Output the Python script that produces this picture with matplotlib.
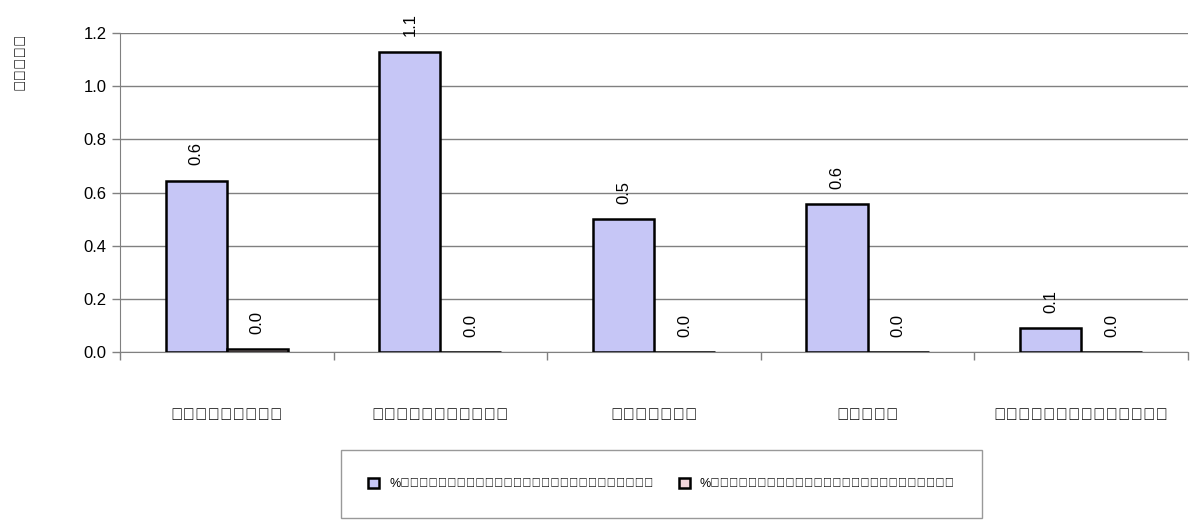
import matplotlib

matplotlib.use("Agg")

import matplotlib.pyplot as plt
import numpy as np

plt.rcParams["font.family"] = ["Liberation Sans", "DejaVu Sans"]

# data
districts = ["អន្លង់វែង", "បន្ទាយអំពិល", "ចុងកាល់", "សំរោង", "ត្រពាំងប្រាសាទ"]
pond = [0.645, 1.13, 0.50, 0.555, 0.09]
field = [0.012, 0.0, 0.0, 0.0, 0.0]
series_names = ["%គ្រួសារចិញ្ចឹមត្រីក្នុងស្រះ", "%គ្រួសារចិញ្ចឹមត្រីក្នុងបែរ"]
y_label = "ភាគរយ"

fig = plt.figure(figsize=(11.92, 5.29), dpi=100)
ax = fig.add_axes([0.1007, 0.3346, 0.8959, 0.603])

x = np.arange(len(districts))
w = 0.286

b1 = ax.bar(x - w / 2, pond, w, color="#C6C6F6", edgecolor="black", linewidth=1.8,
            zorder=3)
b2 = ax.bar(x + w / 2, field, w, color="#F2D6DC", edgecolor="black", linewidth=1.8,
            zorder=3)

for rects, vals in ((b1, pond), (b2, field)):
    for r, v in zip(rects, vals):
        ax.annotate(f"{v:.1f}", (r.get_x() + r.get_width() / 2, v),
                    xytext=(0, 11), textcoords="offset points",
                    ha="center", va="bottom", rotation=90, fontsize=12,
                    annotation_clip=False)

ax.set_xlim(-0.5, len(districts) - 0.5)
ax.set_ylim(0, 1.2)
ax.set_yticks(np.arange(0, 1.21, 0.2))
ax.set_yticklabels([f"{t:.1f}" for t in np.arange(0, 1.21, 0.2)], fontsize=12)
ax.yaxis.grid(True, color="#808080", linewidth=1, zorder=0)

ax.set_xticks(x)
ax.set_xticklabels(districts, fontsize=12)
ax.set_xticks(np.arange(-0.5, len(districts)), minor=True)
ax.tick_params(axis="x", which="major", length=0, pad=40)
ax.tick_params(axis="x", which="minor", length=6, width=1, color="#808080")
ax.tick_params(axis="y", length=6, width=1, color="#808080")

for s in ("top", "right"):
    ax.spines[s].set_visible(False)
ax.spines["left"].set_color("#808080")
ax.spines["bottom"].set_color("#808080")

fig.text(0.017, 0.885, y_label, rotation=90, fontsize=11, fontweight="bold",
         ha="center", va="center")

leg = fig.legend([b1, b2], series_names, loc="center", ncol=2,
                 bbox_to_anchor=(0.555, 0.085), fontsize=9, frameon=True,
                 fancybox=False, edgecolor="#808080", borderpad=2.2,
                 handlelength=0.9, handleheight=0.9, columnspacing=2)
leg.get_frame().set_linewidth(1)

fig.savefig("out.png", dpi=100)
